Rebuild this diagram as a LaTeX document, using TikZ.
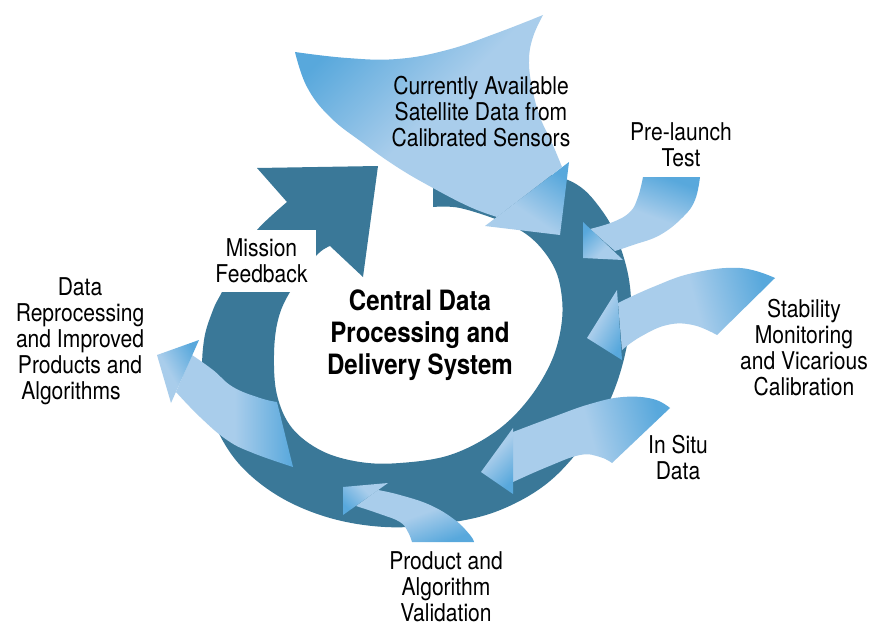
\documentclass[tikz,border=0pt]{standalone}
\usepackage{fontspec}
\setmainfont{TeX Gyre Heros}[FakeStretch=0.86]
\definecolor{ringc}{HTML}{3A7898}
\definecolor{lb}{HTML}{A9CDEB}
\definecolor{db}{HTML}{58A8DC}
\pgfdeclarehorizontalshading{ribbonsh}{100bp}{color(0bp)=(lb); color(25bp)=(lb); color(50bp)=(lb); color(75bp)=(db); color(100bp)=(db)}
\pgfdeclarehorizontalshading{headsh}{100bp}{color(0bp)=(lb); color(25bp)=(lb); color(42bp)=(lb); color(75bp)=(db); color(100bp)=(db)}
\tikzset{
  ringshape/.style={fill=ringc},
  ribbon/.style={shading=ribbonsh},
  headtri/.style={shading=headsh},
  lbl/.style={font=\fontsize{24.5}{26}\selectfont, align=center, inner sep=0pt},
  mainlbl/.style={font=\fontsize{28}{32}\selectfont\bfseries, align=center, inner sep=0pt}
}
\begin{document}
\begin{tikzpicture}[x=1pt,y=-1pt]
\useasboundingbox[fill=white] (0,0) rectangle (872,626);

% main ring with arrowhead
\fill[ringshape] plot[smooth,tension=0.6] coordinates {(433,178) (500,170) (568,180) (603,212) (623,255) (631,300) (626,350) (610,400) (583,445) (545,485) (495,512) (440,524) (385,527) (330,518) (280,497) (240,465) (215,425) (203,380) (204,340) (213,310) (222,292) (240,258) (257,230) (287,202)}
  -- (257,168) -- (378,166) -- (363,277) -- (330,246)
  -- plot[smooth,tension=0.6] coordinates {(330,246) (316,256) (290,292) (278,320) (274,355) (277,395) (292,428) (322,451) (360,462) (400,463) (450,455) (495,432) (528,400) (552,360) (562,320) (560,285) (550,260) (530,237) (503,222) (460,208) (433,207)} -- cycle;

% Mission feedback label box
\node[lbl, fill=white, minimum width=109pt, minimum height=62pt] (mf) at (261.5,261) {Mission\\Feedback};

% big arrow: currently available satellite data
\shade[ribbon, shading angle=135] plot[smooth,tension=0.7] coordinates {(295,52) (347,58) (397,59) (447,50) (497,33) (543,15)}
  -- plot[smooth,tension=0.7] coordinates {(543,15) (533,37) (529,60) (532,87) (540,117) (552,143) (562,167)}
  -- plot[smooth,tension=0.7] coordinates {(497,217) (470,207) (433,188) (397,167) (363,143) (330,117) (307,87) (295,52)} -- cycle;
\shade[headtri, shading angle=56] (485,226) -- (569,162) -- (560,235) -- cycle;

% pre-launch test
\shade[ribbon, shading angle=70] plot[smooth,tension=0.7] coordinates {(643,177) (638,197) (630,212) (613,222) (590,229)}
  -- plot[smooth,tension=0.7] coordinates {(615,251) (633,245) (660,235) (683,217) (695,200) (700,177)} -- cycle;
\shade[headtri, shading angle=135] (583,222) -- (583,258) -- (623,260) -- cycle;

% stability monitoring
\shade[ribbon, shading angle=15] plot[smooth,tension=0.7] coordinates {(775,278) (740,268) (693,273) (653,287) (618,303)}
  -- plot[smooth,tension=0.7] coordinates {(622,350) (640,337) (667,325) (693,325) (717,335)} -- cycle;
\shade[headtri, shading angle=-30] (617,290) -- (587,338) -- (622,360) -- cycle;

% in situ data
\shade[ribbon, shading angle=15] plot[smooth,tension=0.7] coordinates {(670,408) (653,399) (623,397) (590,404) (553,417) (513,432)}
  -- plot[smooth,tension=0.7] coordinates {(513,482) (547,467) (580,455) (600,457) (612,463)} -- cycle;
\shade[headtri, shading angle=-45] (513,428) -- (481,472) -- (513,494) -- cycle;

% product and algorithm validation
\shade[ribbon, shading angle=-70] plot[smooth,tension=0.7] coordinates {(378,490) (400,495) (430,505) (455,520) (470,535) (474,542)}
  -- plot[smooth,tension=0.7] coordinates {(412,542) (408,532) (400,522) (380,514) (356,506)} -- cycle;
\shade[headtri, shading angle=-135] (343,487) -- (388,483) -- (343,515) -- cycle;

% data reprocessing (outgoing)
\shade[ribbon, shading angle=0] plot[smooth,tension=0.7] coordinates {(192,355) (213,370) (233,387) (260,398) (277,402)}
  -- plot[smooth,tension=0.7] coordinates {(293,467) (253,453) (227,440) (200,417) (176,392)} -- cycle;
\shade[headtri, shading angle=30] (157,355) -- (199,340) -- (171,403) -- cycle;

% labels
\node[lbl] (cur) at (481,112) {Currently Available\\Satellite Data from\\Calibrated Sensors};
\node[lbl] (pre) at (681,145) {Pre-launch\\Test};
\node[mainlbl] (cen) at (420,335) {Central Data\\Processing and\\Delivery System};
\node[lbl] (dr) at (80,341) {Data\\Reprocessing\\and Improved\\Products and\\Algorithms\hspace*{18pt}};
\node[lbl] (stab) at (804,348) {Stability\\Monitoring\\and Vicarious\\Calibration};
\node[lbl] (ins) at (678,458) {In Situ\\Data};
\node[lbl] (prod) at (446,587) {Product and\\Algorithm\\Validation};
\end{tikzpicture}
\end{document}
